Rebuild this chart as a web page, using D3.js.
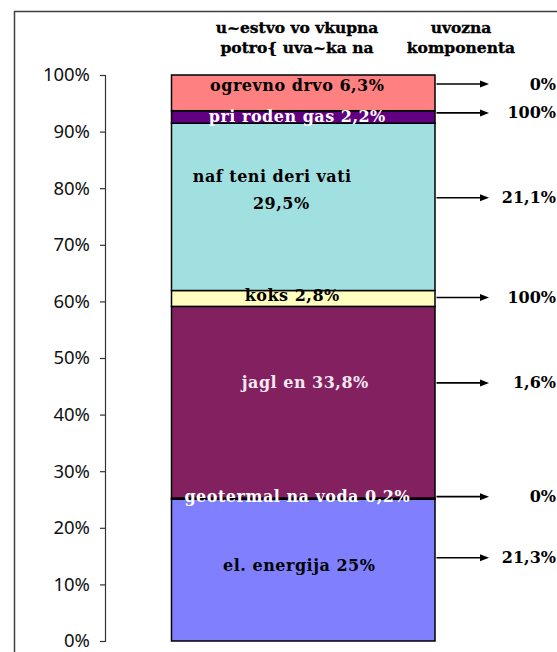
<!DOCTYPE html>
<html>
<head>
<meta charset="utf-8">
<script src="https://cdn.jsdelivr.net/npm/d3@7"></script>
<style>
  html, body { margin: 0; padding: 0; background: #ffffff; }
  svg { display: block; }
  .hdr { font-family: 'DejaVu Serif', serif; font-weight: bold; font-size: 15.5px; }
</style>
</head>
<body>
<svg id="chart" width="557" height="652"></svg>
<script>
// ---------- data ----------
const categories = ["el. energija", "geotermal na voda", "jagl en", "koks", "naf teni deri vati", "pri roden gas", "ogrevno drvo"];
const shares = [25, 0.2, 33.8, 2.8, 29.5, 2.2, 6.3];          // učestvo vo vkupna potrošuvačka (%)
const importShares = [21.3, 0, 1.6, 100, 21.1, 100, 0];       // uvozna komponenta (%)
const tickValues = [0, 10, 20, 30, 40, 50, 60, 70, 80, 90, 100];
const headerLeft = ["u~estvo vo vkupna", "potro{ uva~ka na"];
const headerRight = ["uvozna", "komponenta"];

// ---------- layout / style ----------
const colors = ["#8080FF", "#6B1A8F", "#822060", "#FFFFC0", "#A0E0E0", "#600080", "#FF8080"];
const textColors = ["#000", "#fff", "#f4e8f0", "#000", "#000", "#fff", "#000"];
// label & arrow anchors (in percent of the axis)
const labelAt = [13.4, 25.6, 45.6, 61.0, 79.7, 92.6, 98.2];
const labelDx = [-4, -6, 2, -11, -31, -6, -6];
const arrowAt = [14.7, 25.5, 45.6, 60.7, 78.3, 93.3, 98.4];

const svg = d3.select("#chart");
const serif = "'DejaVu Serif', serif";

// frame
svg.append("rect")
  .attr("x", 14.5).attr("y", 11.5)
  .attr("width", 600).attr("height", 700)
  .attr("fill", "none").attr("stroke", "#404040").attr("stroke-width", 1.5);

const y = d3.scaleLinear().domain([0, 1]).range([641, 75]);
const x = d3.scaleBand().domain(["share"]).range([171.5, 435]).padding(0);

// stacked (100%) data
const row = {};
categories.forEach((c, i) => row[c] = shares[i]);
const stack = d3.stack().keys(categories).offset(d3.stackOffsetExpand);
const series = stack([row]);

// axis
const axis = d3.axisLeft(y)
  .tickValues(tickValues.map(v => v / 100))
  .tickFormat(d3.format(".0%"))
  .tickSize(5)
  .tickPadding(10);
const gAxis = svg.append("g").attr("transform", "translate(105,0)").call(axis);
gAxis.select(".domain").attr("stroke", "#333").attr("stroke-width", 1.2);
gAxis.selectAll(".tick line").attr("stroke", "#333").attr("stroke-width", 1.2);
gAxis.selectAll(".tick text")
  .attr("font-family", "'Noto Sans', 'Open Sans', sans-serif")
  .attr("font-size", 18.5)
  .attr("fill", "#111");

// bars
svg.append("g").selectAll("rect")
  .data(series)
  .join("rect")
  .attr("x", x("share"))
  .attr("width", x.bandwidth())
  .attr("y", d => y(d[0][1]))
  .attr("height", d => y(d[0][0]) - y(d[0][1]))
  .attr("fill", (d, i) => colors[i])
  .attr("stroke", "#000")
  .attr("stroke-width", 1.5);

// segment labels
const loc = d3.formatLocale({decimal: ",", thousands: ".", grouping: [3], currency: ["", ""]});
const fmt = v => loc.format(".1~f")(v) + "%";
const cx = x("share") + x.bandwidth() / 2;

const labels = svg.append("g")
  .attr("font-family", serif)
  .attr("font-weight", "bold")
  .attr("font-size", 16)
  .attr("letter-spacing", 0.5)
  .attr("text-anchor", "middle");

categories.forEach((c, i) => {
  const t = labels.append("text")
    .attr("fill", textColors[i])
    .attr("x", cx + labelDx[i])
    .attr("y", y(labelAt[i] / 100))
    .attr("dominant-baseline", "central");
  if (c === "naf teni deri vati") {
    t.append("tspan").attr("x", cx + labelDx[i]).attr("dy", "-0.85em").text(c);
    t.append("tspan").attr("x", cx + labelDx[i] + 9).attr("dy", "1.7em").text(fmt(shares[i]));
  } else {
    t.text(c + " " + fmt(shares[i]));
  }
});

// arrows
const x0 = 436.5, x1 = 489;
const arrows = svg.append("g");
categories.forEach((c, i) => {
  const yy = y(arrowAt[i] / 100);
  arrows.append("line")
    .attr("x1", x0).attr("x2", x1 - 8)
    .attr("y1", yy).attr("y2", yy)
    .attr("stroke", "#000").attr("stroke-width", 1.6);
  arrows.append("path")
    .attr("d", `M${x1 - 9},${yy - 3.5}L${x1},${yy}L${x1 - 9},${yy + 3.5}Z`)
    .attr("fill", "#000");
});

// import labels
svg.append("g")
  .attr("font-family", serif)
  .attr("font-weight", "bold")
  .attr("font-size", 16)
  .attr("text-anchor", "end")
  .selectAll("text")
  .data(importShares)
  .join("text")
  .attr("x", 556)
  .attr("y", (d, i) => y(arrowAt[i] / 100))
  .attr("dominant-baseline", "central")
  .text(d => fmt(d));

// headers
const hdr = svg.append("g").attr("text-anchor", "middle");
headerLeft.forEach((h, i) => hdr.append("text").attr("class", "hdr")
  .attr("x", 297).attr("y", 33 + i * 20)
  .attr("fill", "#000").attr("stroke", "#000").attr("stroke-width", 0.35)
  .text(h));
headerRight.forEach((h, i) => hdr.append("text").attr("class", "hdr")
  .attr("x", 461).attr("y", 33 + i * 20)
  .attr("fill", "#000").attr("stroke", "#000").attr("stroke-width", 0.35)
  .text(h));
</script>
</body>
</html>
